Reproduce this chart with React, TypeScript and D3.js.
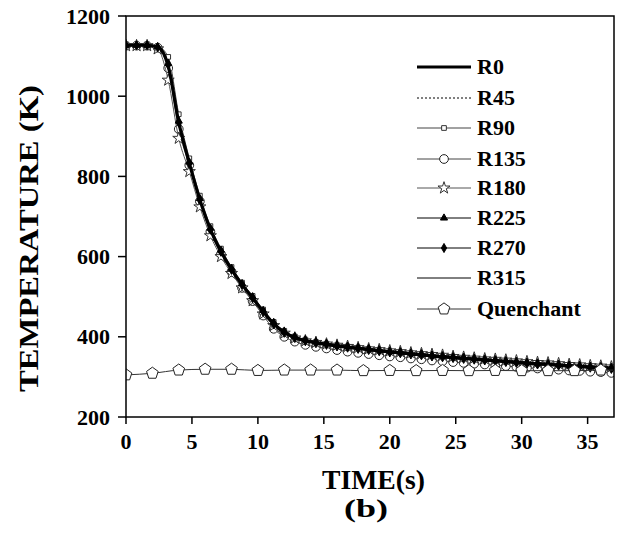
import React from "react";
import * as d3 from "d3";

const times = [0, 0.8, 1.6, 2.4, 3.2, 4, 4.8, 5.6, 6.4, 7.2, 8, 8.8, 9.6, 10.4, 11.2, 12, 12.8, 13.6, 14.4, 15.2, 16, 16.8, 17.6, 18.4, 19.2, 20, 20.8, 21.6, 22.4, 23.2, 24, 24.8, 25.6, 26.4, 27.2, 28, 28.8, 29.6, 30.4, 31.2, 32, 32.8, 33.6, 34.4, 35.2, 36, 36.8];

const R0 = [1127,1127,1127,1123,1075,935,833,742,668,613,568,530,497,463,432,411,398,390,385,381,377,374,371,368,365,362,360,357,355,352,350,348,346,344,342,340,338,336,334,332,331,329,327,326,324,323,321];
const R45 = [1127,1127,1127,1124,1080,940,838,746,671,616,570,532,499,465,434,413,400,392,387,383,379,376,373,370,367,364,362,359,357,354,352,350,348,346,344,342,340,338,336,334,333,331,329,328,326,325,323];
const R90 = [1126,1126,1126,1124,1098,955,845,752,676,620,574,535,502,468,437,415,401,393,387,383,379,376,373,370,367,364,361,359,356,354,352,349,347,345,343,341,339,337,335,334,332,330,329,327,326,324,323];
const R135 = [1126,1126,1126,1121,1070,918,828,738,662,606,562,522,489,453,420,400,388,380,375,371,367,363,360,357,354,351,349,346,344,341,339,337,335,333,331,329,327,325,323,321,320,318,316,315,313,312,310];
const R180 = [1126,1126,1126,1118,1040,895,812,724,652,600,558,522,490,457,428,409,397,390,386,382,379,376,373,370,368,365,363,360,358,356,354,351,349,347,345,344,342,340,338,336,335,333,331,330,328,327,325];
const R225 = [1127,1127,1127,1123,1082,938,836,745,671,616,571,533,500,466,436,414,401,393,388,384,380,377,374,371,368,365,363,360,358,355,353,351,349,347,345,343,341,339,337,335,334,332,330,329,327,326,324];
const R270 = [1127,1127,1127,1122,1078,934,832,741,667,612,567,529,496,462,431,410,397,389,384,380,376,373,370,367,364,361,359,356,354,351,349,347,345,343,341,339,337,335,333,331,330,328,326,325,323,322,320];
const R315 = [1127,1127,1127,1122,1074,933,831,740,666,611,566,528,495,461,430,409,396,388,383,379,375,372,369,366,363,360,358,355,353,350,348,346,344,342,340,338,336,334,332,330,329,327,325,324,322,321,319];

const qTimes = [0, 2, 4, 6, 8, 10, 12, 14, 16, 18, 20, 22, 24, 26, 28, 30, 32, 34, 36];
const Quenchant = [305, 309, 317, 319, 319, 316, 317, 317, 317, 315.5, 316, 315.5, 316, 315.5, 316, 315.5, 315.5, 315.5, 317];

const xTicks = [0, 5, 10, 15, 20, 25, 30, 35];
const yTicks = [200, 400, 600, 800, 1000, 1200];

const legendLabels = ["R0", "R45", "R90", "R135", "R180", "R225", "R270", "R315", "Quenchant"];

const pentagon = {
  draw(ctx: any, size: number) {
    const r = Math.sqrt(size / 2.4);
    for (let i = 0; i < 5; i++) {
      const a = -Math.PI / 2 + (i * 2 * Math.PI) / 5;
      const x = r * Math.cos(a), y = r * Math.sin(a);
      if (i === 0) ctx.moveTo(x, y); else ctx.lineTo(x, y);
    }
    ctx.closePath();
  },
};

type Series = {
  name: string; t: number[]; v: number[]; stroke: string; width: number; dash?: string;
  symbol?: any; size?: number; fill?: string; mstroke?: string;
};

const series: Series[] = [
  { name: "R45", t: times, v: R45, stroke: "#000", width: 1, dash: "2,2" },
  { name: "R90", t: times, v: R90, stroke: "#444", width: 1, symbol: d3.symbolSquare, size: 22, fill: "#fff", mstroke: "#333" },
  { name: "R135", t: times, v: R135, stroke: "#444", width: 1, symbol: d3.symbolCircle, size: 60, fill: "#fff", mstroke: "#222" },
  { name: "R180", t: times, v: R180, stroke: "#555", width: 1, symbol: d3.symbolStar, size: 45, fill: "#fff", mstroke: "#333" },
  { name: "R225", t: times, v: R225, stroke: "#000", width: 1, symbol: d3.symbolTriangle, size: 22, fill: "#000", mstroke: "#000" },
  { name: "R270", t: times, v: R270, stroke: "#000", width: 1, symbol: d3.symbolDiamond, size: 24, fill: "#000", mstroke: "#000" },
  { name: "R315", t: times, v: R315, stroke: "#000", width: 1 },
  { name: "R0", t: times, v: R0, stroke: "#000", width: 3.2 },
  { name: "Quenchant", t: qTimes, v: Quenchant, stroke: "#333", width: 1, symbol: pentagon, size: 90, fill: "#fff", mstroke: "#222" },
];

const styleMap: Record<string, Series> = {};
series.forEach((s) => (styleMap[s.name] = s));

const W = 630, H = 541;
const L = 126, R = 614, T = 16, B = 417;
const FONT = "'Liberation Serif', 'Times New Roman', serif";

export default function App() {
  const x = d3.scaleLinear().domain([0, 37]).range([L, R]);
  const y = d3.scaleLinear().domain([200, 1200]).range([B, T]);

  const clipId = "plotclip";

  return (
    <svg width={W} height={H} style={{ position: "absolute", left: 0, top: 0, background: "#fff" }} fontFamily={FONT} fontWeight="bold">
      <defs>
        <clipPath id={clipId}>
          <rect x={L} y={T} width={R - L} height={B - T} />
        </clipPath>
      </defs>
      <rect x={0} y={0} width={W} height={H} fill="#fff" />
      <g clipPath={`url(#${clipId})`}>
        {series.map((s) => {
          const pts: [number, number][] = s.t.map((t, i) => [t, s.v[i]]);
          const ext = s.name === "Quenchant" ? pts.concat([[37, s.v[s.v.length - 1]]]) : pts.concat([[37, s.v[s.v.length - 1] - 1]]);
          const line = d3.line<[number, number]>().x((d) => x(d[0])).y((d) => y(d[1])).curve(d3.curveMonotoneX);
          return (
            <g key={s.name}>
              <path d={line(ext) || ""} fill="none" stroke={s.stroke} strokeWidth={s.width} strokeDasharray={s.dash} />
              {s.symbol &&
                pts.map((p, i) => (
                  <path key={i} transform={`translate(${x(p[0])},${y(p[1])})`} d={d3.symbol(s.symbol, s.size)() || ""} fill={s.fill} stroke={s.mstroke} strokeWidth={1} />
                ))}
            </g>
          );
        })}
      </g>
      <rect x={L} y={T} width={R - L} height={B - T} fill="none" stroke="#000" strokeWidth={1.5} />
      {yTicks.map((t) => (
        <g key={t}>
          <line x1={L - 8} x2={L} y1={y(t)} y2={y(t)} stroke="#000" strokeWidth={1.5} />
          <text x={110} y={y(t) + 7.5} textAnchor="end" fontSize={22}>{t}</text>
        </g>
      ))}
      {xTicks.map((t) => (
        <g key={t}>
          <line x1={x(t)} x2={x(t)} y1={B} y2={B + 7} stroke="#000" strokeWidth={1.5} />
          <text x={x(t)} y={449} textAnchor="middle" fontSize={22}>{t}</text>
        </g>
      ))}
      <text x={322} y={489} fontSize={27} textLength={103} lengthAdjust="spacingAndGlyphs">TIME(s)</text>
      <text x={344} y={517} fontSize={26} textLength={44} lengthAdjust="spacingAndGlyphs">(b)</text>
      <text transform={`translate(38,392) rotate(-90)`} fontSize={28} textLength={307} lengthAdjust="spacingAndGlyphs">TEMPERATURE (K)</text>
      {legendLabels.map((name, i) => {
        const s = styleMap[name];
        const ly = [67, 98, 128, 159, 188, 218, 248, 278, 309][i];
        return (
          <g key={name}>
            <line x1={417} x2={471} y1={ly} y2={ly} stroke={s.stroke} strokeWidth={s.width} strokeDasharray={s.dash} />
            {s.symbol && (
              <path transform={`translate(444,${ly})`} d={d3.symbol(s.symbol, s.size)() || ""} fill={s.fill} stroke={s.mstroke} strokeWidth={1} />
            )}
            <g transform={`translate(477,${ly + 7}) scale(1.1,1)`}>
              <text x={0} y={0} fontSize={20}>{name}</text>
            </g>
          </g>
        );
      })}
    </svg>
  );
}
